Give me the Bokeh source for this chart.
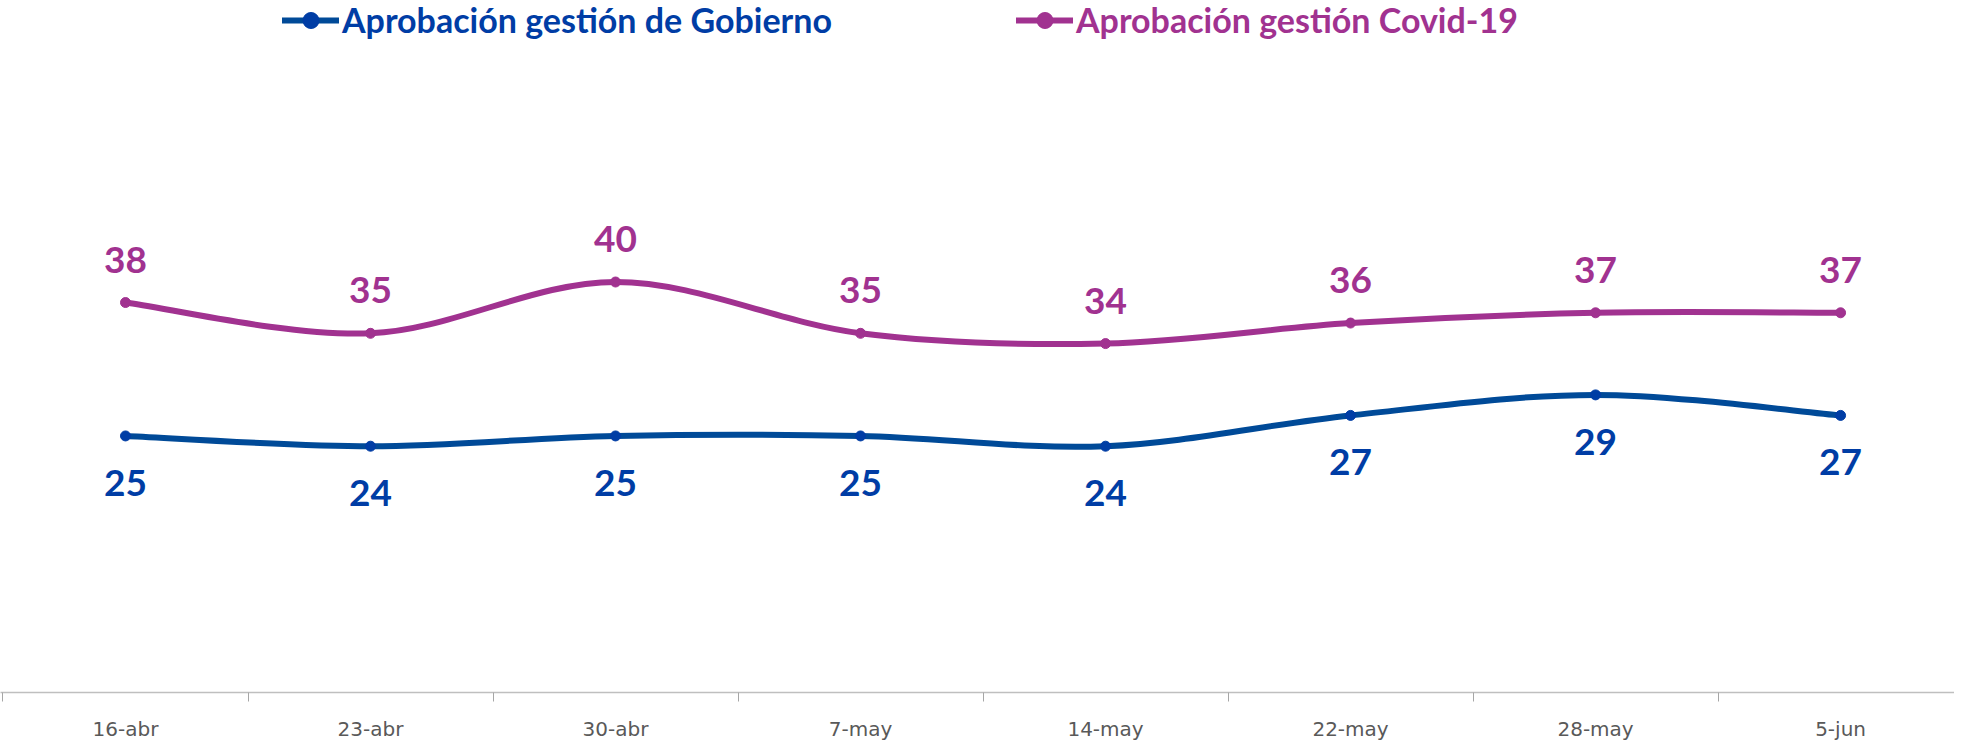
from bokeh.plotting import figure
from bokeh.models import Range1d, FixedTicker, Legend, LegendItem, ColumnDataSource
from bokeh.core.properties import value
from bokeh.embed import file_html
from bokeh.resources import INLINE

categories = ["16-abr", "23-abr", "30-abr", "7-may", "14-may", "22-may", "28-may", "5-jun"]
gobierno = [25, 24, 25, 25, 24, 27, 29, 27]
covid = [38, 35, 40, 35, 34, 36, 37, 37]
series_names = ["Aprobación gestión de Gobierno", "Aprobación gestión Covid-19"]

GOV_LINE = "#004A98"
GOV_TEXT = "#003DA5"
COV_COLOR = "#A13290"

xs = [i + 0.5 for i in range(len(categories))]

FH = 692
p = figure(frame_width=1954, frame_height=FH, output_backend="svg", toolbar_location=None,
           x_range=Range1d(-0.0102, 7.965), y_range=Range1d(0, 67.43),
           min_border_left=0, min_border_right=0, min_border_top=0, min_border_bottom=0)
p.outline_line_color = None
p.xgrid.visible = False
p.ygrid.visible = False
p.yaxis.visible = False
p.background_fill_color = "white"


def smooth(xv, yv):
    n = len(xv)
    pts = list(zip(xv, yv))
    x0, y0, x1, y1, cx0, cy0, cx1, cy1 = [], [], [], [], [], [], [], []
    for i in range(n - 1):
        pm = pts[i - 1] if i > 0 else pts[i]
        pa = pts[i]
        pb = pts[i + 1]
        pn = pts[i + 2] if i + 2 < n else pts[i + 1]
        x0.append(pa[0]); y0.append(pa[1])
        x1.append(pb[0]); y1.append(pb[1])
        cx0.append(pa[0] + (pb[0] - pm[0]) / 6.0)
        cy0.append(pa[1] + (pb[1] - pm[1]) / 6.0)
        cx1.append(pb[0] - (pn[0] - pa[0]) / 6.0)
        cy1.append(pb[1] - (pn[1] - pa[1]) / 6.0)
    return ColumnDataSource(dict(x0=x0, y0=y0, x1=x1, y1=y1, cx0=cx0, cy0=cy0, cx1=cx1, cy1=cy1))


for vals, lc, tc, name, yoff, loc_x in [
    (gobierno, GOV_LINE, GOV_TEXT, series_names[0], 47, 282),
    (covid, COV_COLOR, COV_COLOR, series_names[1], -43, 1016),
]:
    src = smooth(xs, vals)
    br = p.bezier(x0="x0", y0="y0", x1="x1", y1="y1", cx0="cx0", cy0="cy0", cx1="cx1", cy1="cy1",
                  source=src, line_color=lc, line_width=6, line_cap="round")
    sr = p.scatter(xs, vals, size=10, fill_color=tc, line_color=tc)
    p.text(xs, vals, text=[str(v) for v in vals], text_font=value("Lato"), text_font_style="bold",
           text_font_size="37px", text_color=tc, text_align="center", text_baseline="alphabetic",
           y_offset=yoff)
    lg = Legend(items=[LegendItem(label=name, renderers=[br, sr])], location=(loc_x, FH - 40),
                orientation="horizontal", padding=0, margin=0, glyph_width=57, glyph_height=40,
                label_height=40, label_standoff=3, label_text_font="Lato",
                label_text_font_style="bold", label_text_font_size="34px", label_text_color=tc,
                border_line_alpha=0, background_fill_alpha=0)
    p.add_layout(lg, "center")

ax = p.xaxis[0]
ax.ticker = FixedTicker(ticks=xs, minor_ticks=list(range(len(categories) + 1)))
ax.major_label_overrides = {x: c for x, c in zip(xs, categories)}
ax.major_tick_out = 0
ax.major_tick_in = 0
ax.minor_tick_out = 9
ax.minor_tick_in = 0
ax.minor_tick_line_color = "#A6A6A6"
ax.axis_line_color = "#BFBFBF"
ax.axis_line_width = 1.5
ax.major_label_standoff = 15
ax.major_label_text_font = "DejaVu Sans"
ax.major_label_text_font_size = "20px"
ax.major_label_text_color = "#595959"

open("out.html", "w").write(file_html(p, INLINE))
